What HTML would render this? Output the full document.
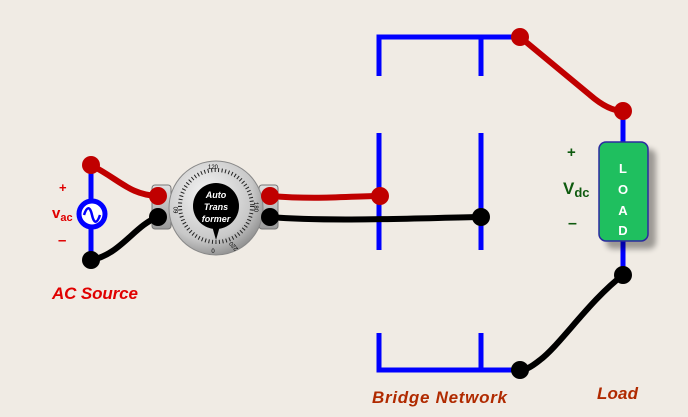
<!DOCTYPE html>
<html><head><style>body{margin:0;background:#f0ebe4}svg{display:block}</style></head><body>
<svg width="688" height="417" viewBox="0 0 688 417" xmlns="http://www.w3.org/2000/svg" font-family="Liberation Sans, sans-serif">
<defs>
<radialGradient id="g1" cx="40%" cy="35%" r="70%"><stop offset="0" stop-color="#f4f4f4"/><stop offset="0.7" stop-color="#c8c8c8"/><stop offset="1" stop-color="#8a8a8a"/></radialGradient>
<linearGradient id="gb" x1="0" y1="0" x2="0" y2="1"><stop offset="0" stop-color="#e0e0e0"/><stop offset="1" stop-color="#9a9a9a"/></linearGradient>
<filter id="bl"><feGaussianBlur stdDeviation="3"/></filter>
</defs>
<rect width="688" height="417" fill="#f0ebe4"/>
<g stroke="#0000ff" stroke-width="5" fill="none">
<path d="M379 76V37H520M481 37V76"/>
<path d="M379 133V250M481 133V250"/>
<path d="M379 333V370H520M481 333V370"/>
<path d="M91 165V260"/>
<path d="M623 111V275"/>
</g>
<circle cx="92" cy="214" r="13" fill="#fff" stroke="#0000ff" stroke-width="5"/>
<path d="M84 215c3-9 6-9 8 0s5 9 8 0" stroke="#0000ff" stroke-width="2.5" fill="none"/>
<g fill="none" stroke-width="6" stroke-linecap="round">
<path d="M91 165C120 180 130 195 158 196" stroke="#c00000"/>
<path d="M91 260C120 255 135 225 158 217" stroke="#000"/>
<path d="M270 196C320 200 350 196 380 196" stroke="#c00000"/>
<path d="M270 217C330 222 420 218 481 217" stroke="#000"/>
<path d="M520 37L590 95C605 108 615 111 623 111" stroke="#c00000"/>
<path d="M623 275C590 300 560 345 540 360C530 368 525 370 520 370" stroke="#000"/>
</g>
<rect x="152" y="185" width="19" height="44" rx="3" fill="url(#gb)" stroke="#777"/>
<rect x="259" y="185" width="19" height="44" rx="3" fill="url(#gb)" stroke="#777"/>
<circle cx="216" cy="208" r="47" fill="url(#g1)" stroke="#888"/>
<circle cx="216" cy="206" r="36" fill="none" stroke="#222" stroke-width="4" stroke-dasharray="1 2.5"/>
<circle cx="216" cy="206" r="23" fill="#000"/>
<path d="M212 226L216 240L220 226Z" fill="#000"/>
<g font-style="italic" font-weight="bold" font-size="9" fill="#fff" text-anchor="middle">
<text x="216" y="198">Auto</text><text x="216" y="210">Trans</text><text x="216" y="222">former</text></g>
<g font-size="6" fill="#000" text-anchor="middle"><text x="213" y="169">120</text><text x="213" y="253">0</text>
<text x="178" y="210" transform="rotate(-90 178 210)">60</text><text x="254" y="207" transform="rotate(90 254 207)">180</text>
<text x="235" y="245" transform="rotate(-130 235 245)">220</text></g>
<g fill="#c00000"><circle cx="91" cy="165" r="9"/><circle cx="158" cy="196" r="9"/><circle cx="270" cy="196" r="9"/><circle cx="380" cy="196" r="9"/><circle cx="520" cy="37" r="9"/><circle cx="623" cy="111" r="9"/></g>
<g fill="#000"><circle cx="91" cy="260" r="9"/><circle cx="158" cy="217" r="9"/><circle cx="270" cy="217" r="9"/><circle cx="481" cy="217" r="9"/><circle cx="623" cy="275" r="9"/><circle cx="520" cy="370" r="9"/></g>
<rect x="606" y="149" width="50" height="100" rx="7" fill="#000" opacity="0.35" filter="url(#bl)"/>
<rect x="599" y="142" width="49" height="99" rx="7" fill="#1fbf5f" stroke="#2a2aa0" stroke-width="1.5"/>
<g fill="#fff" font-weight="bold" font-size="13" text-anchor="middle"><text x="623" y="173">L</text><text x="623" y="194">O</text><text x="623" y="215">A</text><text x="623" y="235">D</text></g>
<g fill="#e00000" font-weight="bold"><text x="59" y="192" font-size="13">+</text><text x="52" y="218" font-size="15">v<tspan font-size="11" dy="3">ac</tspan></text><text x="58" y="245" font-size="15">–</text></g>
<g fill="#0e5a0e" font-weight="bold"><text x="567" y="157" font-size="15">+</text><text x="563" y="194" font-size="17">V<tspan font-size="13" dy="3">dc</tspan></text><text x="568" y="228" font-size="16">–</text></g>
<text x="52" y="299" fill="#e00000" font-weight="bold" font-style="italic" font-size="17" textLength="86">AC Source</text>
<text x="372" y="403" fill="#b02a00" font-weight="bold" font-style="italic" font-size="17" textLength="135">Bridge Network</text>
<text x="597" y="399" fill="#b02a00" font-weight="bold" font-style="italic" font-size="17" textLength="41">Load</text>
</svg>
</body></html>
